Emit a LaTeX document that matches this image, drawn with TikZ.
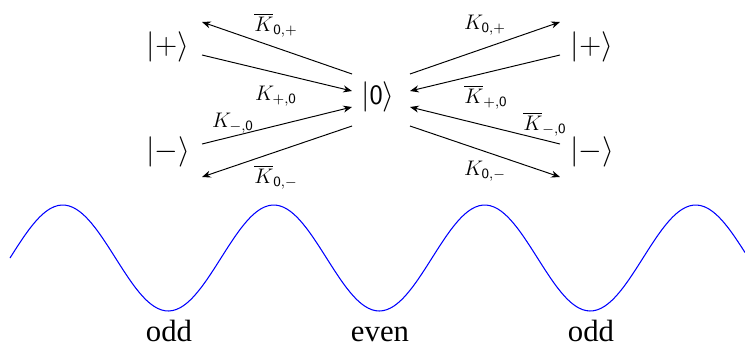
\documentclass[tikz,border=0pt]{standalone}
\usepackage{amsmath,amssymb}
\usepackage{fontspec}
\newfontfamily\wavefont{Liberation Serif}
\usepackage{tikz}
\usetikzlibrary{arrows.meta}
\definecolor{waveblue}{HTML}{0000FF}

\begin{document}
\begin{tikzpicture}[x=0.02cm, y=-0.02cm,
    ket/.style={inner sep=0pt, font=\fontsize{16}{19}\selectfont},
    rate/.style={inner sep=0pt, font=\fontsize{11.5}{14}\selectfont},
    arr/.style={-{Stealth[length=5pt,width=4pt]}, line width=0.55pt},
    parity/.style={inner sep=0pt, anchor=base, font=\wavefont\fontsize{17.5}{20}\selectfont}]
\useasboundingbox (0,0) rectangle (745,345);
% states
\node[ket] (plusL) at (168,47) {$|\mathsf{+}\rangle$};
\node[ket] (minusL) at (168,152) {$|\mathsf{-}\rangle$};
\node[ket] (zero) at (378,97) {$|\mathsf{0}\rangle$};
\node[ket] (plusR) at (592,47) {$|\mathsf{+}\rangle$};
\node[ket] (minusR) at (592,152) {$|\mathsf{-}\rangle$};
% arrow ends
\coordinate (zl1) at (352,74);  \coordinate (pl1) at (202,22);
\coordinate (pl2) at (202,55);  \coordinate (zl2) at (352,91);
\coordinate (ml1) at (202,144); \coordinate (zl3) at (352,107);
\coordinate (zl4) at (352,126); \coordinate (ml2) at (202,177);
\coordinate (zr1) at (410,74);  \coordinate (pr1) at (560,22);
\coordinate (pr2) at (560,55);  \coordinate (zr2) at (410,91);
\coordinate (mr1) at (560,144); \coordinate (zr3) at (410,107);
\coordinate (zr4) at (410,126); \coordinate (mr2) at (560,177);
% left side
\draw[arr] (zl1) -- (pl1);
\draw[arr] (pl2) -- (zl2);
\draw[arr] (ml1) -- (zl3);
\draw[arr] (zl4) -- (ml2);
% right side
\draw[arr] (zr1) -- (pr1);
\draw[arr] (pr2) -- (zr2);
\draw[arr] (mr1) -- (zr3);
\draw[arr] (zr4) -- (mr2);
% rates
\node[rate] (kb0p) at (276,25) {$\overline{K}_{\mathsf{0,+}}$};
\node[rate] (kp0) at (276,96) {$K_{\mathsf{+,0}}$};
\node[rate] (km0) at (233,123) {$K_{\mathsf{-,0}}$};
\node[rate] (kb0m) at (276,177) {$\overline{K}_{\mathsf{0,-}}$};
\node[rate] (k0p) at (485,25) {$K_{\mathsf{0,+}}$};
\node[rate] (kbp0) at (486,97) {$\overline{K}_{\mathsf{+,0}}$};
\node[rate] (kbm0) at (545,124) {$\overline{K}_{\mathsf{-,0}}$};
\node[rate] (k0m) at (485,171) {$K_{\mathsf{0,-}}$};
% wave
\draw[waveblue, line width=0.6pt] plot[domain=10:745, samples=200, smooth]
  (\x, {258-53*sin((\x-10)/211*360)});
\node[parity] (oddL) at (169,341) {odd};
\node[parity] (even) at (380,341) {even};
\node[parity] (oddR) at (591,341) {odd};
\end{tikzpicture}
\end{document}
